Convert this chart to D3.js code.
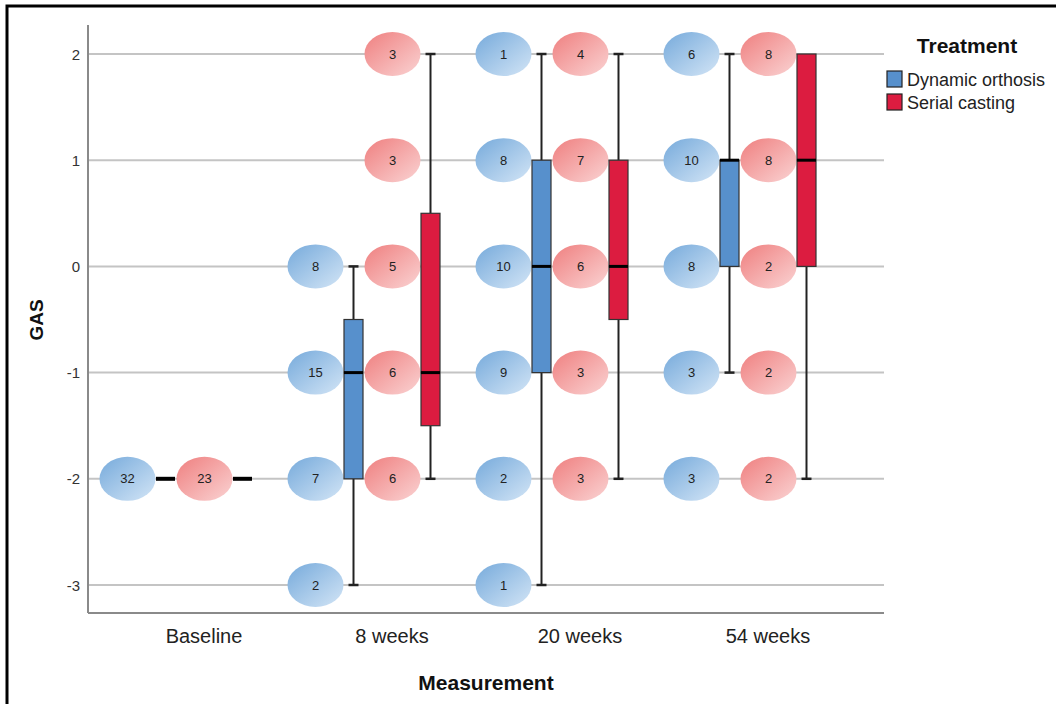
<!DOCTYPE html>
<html>
<head>
<meta charset="utf-8">
<script src="https://cdn.jsdelivr.net/npm/d3@7"></script>
<style>
  body { margin: 0; background: #fff; }
  svg { display: block; font-family: "Liberation Sans", Arial, sans-serif; }
</style>
</head>
<body>
<svg width="1056" height="704"></svg>
<script>
const svg = d3.select("svg");

// data
const measurements = ["Baseline", "8 weeks", "20 weeks", "54 weeks"];
const treatments = ["Dynamic orthosis", "Serial casting"];
const yTicks = [2, 1, 0, -1, -2, -3];

// box stats: [min, q1, median, q3, max] per measurement
const orthosisBoxes = [
  [-2, -2, -2, -2, -2],
  [-3, -2, -1, -0.5, 0],
  [-3, -1, 0, 1, 2],
  [-1, 0, 1, 1, 2]
];
const castingBoxes = [
  [-2, -2, -2, -2, -2],
  [-2, -1.5, -1, 0.5, 2],
  [-2, -0.5, 0, 1, 2],
  [-2, 0, 1, 2, 2]
];

// counts per GAS level: [GAS, n]
const orthosisCounts = [
  [[-2, 32]],
  [[0, 8], [-1, 15], [-2, 7], [-3, 2]],
  [[2, 1], [1, 8], [0, 10], [-1, 9], [-2, 2], [-3, 1]],
  [[2, 6], [1, 10], [0, 8], [-1, 3], [-2, 3]]
];
const castingCounts = [
  [[-2, 23]],
  [[2, 3], [1, 3], [0, 5], [-1, 6], [-2, 6]],
  [[2, 4], [1, 7], [0, 6], [-1, 3], [-2, 3]],
  [[2, 8], [1, 8], [0, 2], [-1, 2], [-2, 2]]
];

const colors = { "Dynamic orthosis": "#5790cc", "Serial casting": "#dc1c40" };

// layout
const plotLeft = 88, plotRight = 884, plotTop = 25, plotBottom = 613;

const x = d3.scaleBand().domain(measurements).range([110, 862]);
const x1 = d3.scalePoint().domain(treatments).range([-38.5, 38.5]);
const y = d3.scaleLinear().domain([-3, 2]).range([585, 54]);

// outer frame
svg.append("rect")
  .attr("x", 7).attr("y", 6)
  .attr("width", 1070).attr("height", 720)
  .attr("fill", "none").attr("stroke", "#000").attr("stroke-width", 3);

// gradients for count ellipses
const defs = svg.append("defs");
const grads = [
  ["gradBlue", "#76aadb", "#d3e5f6"],
  ["gradRed", "#ef7f7f", "#fad3d3"]
];
grads.forEach(g => {
  const lg = defs.append("linearGradient").attr("id", g[0])
    .attr("x1", 0).attr("y1", 0).attr("x2", 1).attr("y2", 1);
  lg.append("stop").attr("offset", "0%").attr("stop-color", g[1]);
  lg.append("stop").attr("offset", "100%").attr("stop-color", g[2]);
});

// gridlines
svg.append("g")
  .selectAll("line")
  .data(yTicks)
  .join("line")
  .attr("x1", plotLeft).attr("x2", plotRight)
  .attr("y1", d => y(d)).attr("y2", d => y(d))
  .attr("stroke", "#c4c4c4").attr("stroke-width", 2);

// axes lines
svg.append("line")
  .attr("x1", plotLeft).attr("x2", plotLeft).attr("y1", plotTop).attr("y2", plotBottom)
  .attr("stroke", "#8a8a8a").attr("stroke-width", 2);
svg.append("line")
  .attr("x1", plotLeft).attr("x2", plotRight).attr("y1", plotBottom).attr("y2", plotBottom)
  .attr("stroke", "#8a8a8a").attr("stroke-width", 2);

// y tick labels
svg.append("g")
  .selectAll("text")
  .data(yTicks)
  .join("text")
  .attr("x", 80).attr("y", d => y(d) + 5.5)
  .attr("text-anchor", "end")
  .attr("font-size", 15).attr("fill", "#333")
  .text(d => d);

// x tick labels
svg.append("g")
  .selectAll("text")
  .data(measurements)
  .join("text")
  .attr("x", d => x(d) + x.bandwidth() / 2)
  .attr("y", 643)
  .attr("text-anchor", "middle")
  .attr("font-size", 20).attr("fill", "#222")
  .text(d => d);

// axis titles
svg.append("text")
  .attr("transform", "translate(43,320) rotate(-90)")
  .attr("text-anchor", "middle")
  .attr("font-size", 19).attr("font-weight", "bold").attr("fill", "#111")
  .text("GAS");
svg.append("text")
  .attr("x", 486).attr("y", 690)
  .attr("text-anchor", "middle")
  .attr("font-size", 21).attr("font-weight", "bold").attr("fill", "#111")
  .text("Measurement");

// build rows
const series = [
  { t: "Dynamic orthosis", boxes: orthosisBoxes, counts: orthosisCounts, grad: "url(#gradBlue)" },
  { t: "Serial casting", boxes: castingBoxes, counts: castingCounts, grad: "url(#gradRed)" }
];

const boxW = 19, capW = 10, ellOffset = 38;

// count ellipses
series.forEach(s => {
  measurements.forEach((m, i) => {
    const cx = x(m) + x.bandwidth() / 2 + x1(s.t) - ellOffset;
    const g = svg.append("g");
    g.selectAll("ellipse")
      .data(s.counts[i])
      .join("ellipse")
      .attr("cx", cx).attr("cy", d => y(d[0]))
      .attr("rx", 28).attr("ry", 22)
      .attr("fill", s.grad);
    g.selectAll("text")
      .data(s.counts[i])
      .join("text")
      .attr("x", cx).attr("y", d => y(d[0]) + 4.5)
      .attr("text-anchor", "middle")
      .attr("font-size", 13).attr("fill", "#222")
      .text(d => d[1]);
  });
});

// boxplots
series.forEach(s => {
  measurements.forEach((m, i) => {
    const cx = x(m) + x.bandwidth() / 2 + x1(s.t);
    const [mn, q1, med, q3, mx] = s.boxes[i];
    const g = svg.append("g");
    if (mx > q3) {
      g.append("line").attr("x1", cx).attr("x2", cx).attr("y1", y(mx)).attr("y2", y(q3))
        .attr("stroke", "#222").attr("stroke-width", 2);
      g.append("line").attr("x1", cx - capW / 2).attr("x2", cx + capW / 2).attr("y1", y(mx)).attr("y2", y(mx))
        .attr("stroke", "#222").attr("stroke-width", 2.5);
    }
    if (mn < q1) {
      g.append("line").attr("x1", cx).attr("x2", cx).attr("y1", y(q1)).attr("y2", y(mn))
        .attr("stroke", "#222").attr("stroke-width", 2);
      g.append("line").attr("x1", cx - capW / 2).attr("x2", cx + capW / 2).attr("y1", y(mn)).attr("y2", y(mn))
        .attr("stroke", "#222").attr("stroke-width", 2.5);
    }
    if (q3 > q1) {
      g.append("rect")
        .attr("x", cx - boxW / 2).attr("y", y(q3))
        .attr("width", boxW).attr("height", y(q1) - y(q3))
        .attr("fill", colors[s.t]).attr("stroke", "#333").attr("stroke-width", 1.2);
    }
    g.append("line")
      .attr("x1", cx - boxW / 2).attr("x2", cx + boxW / 2)
      .attr("y1", y(med)).attr("y2", y(med))
      .attr("stroke", "#000").attr("stroke-width", q3 > q1 ? 3 : 4);
  });
});

// legend
const legend = svg.append("g");
legend.append("text")
  .attr("x", 967).attr("y", 53)
  .attr("text-anchor", "middle")
  .attr("font-size", 21).attr("font-weight", "bold").attr("fill", "#111")
  .text("Treatment");
const li = legend.selectAll("g.item")
  .data(treatments)
  .join("g").attr("class", "item")
  .attr("transform", (d, i) => `translate(887,${71 + i * 23})`);
li.append("rect")
  .attr("width", 15).attr("height", 16)
  .attr("fill", d => colors[d]).attr("stroke", "#222").attr("stroke-width", 1.2);
li.append("text")
  .attr("x", 20).attr("y", 14.5)
  .attr("font-size", 18).attr("fill", "#222")
  .text(d => d);
</script>
</body>
</html>
